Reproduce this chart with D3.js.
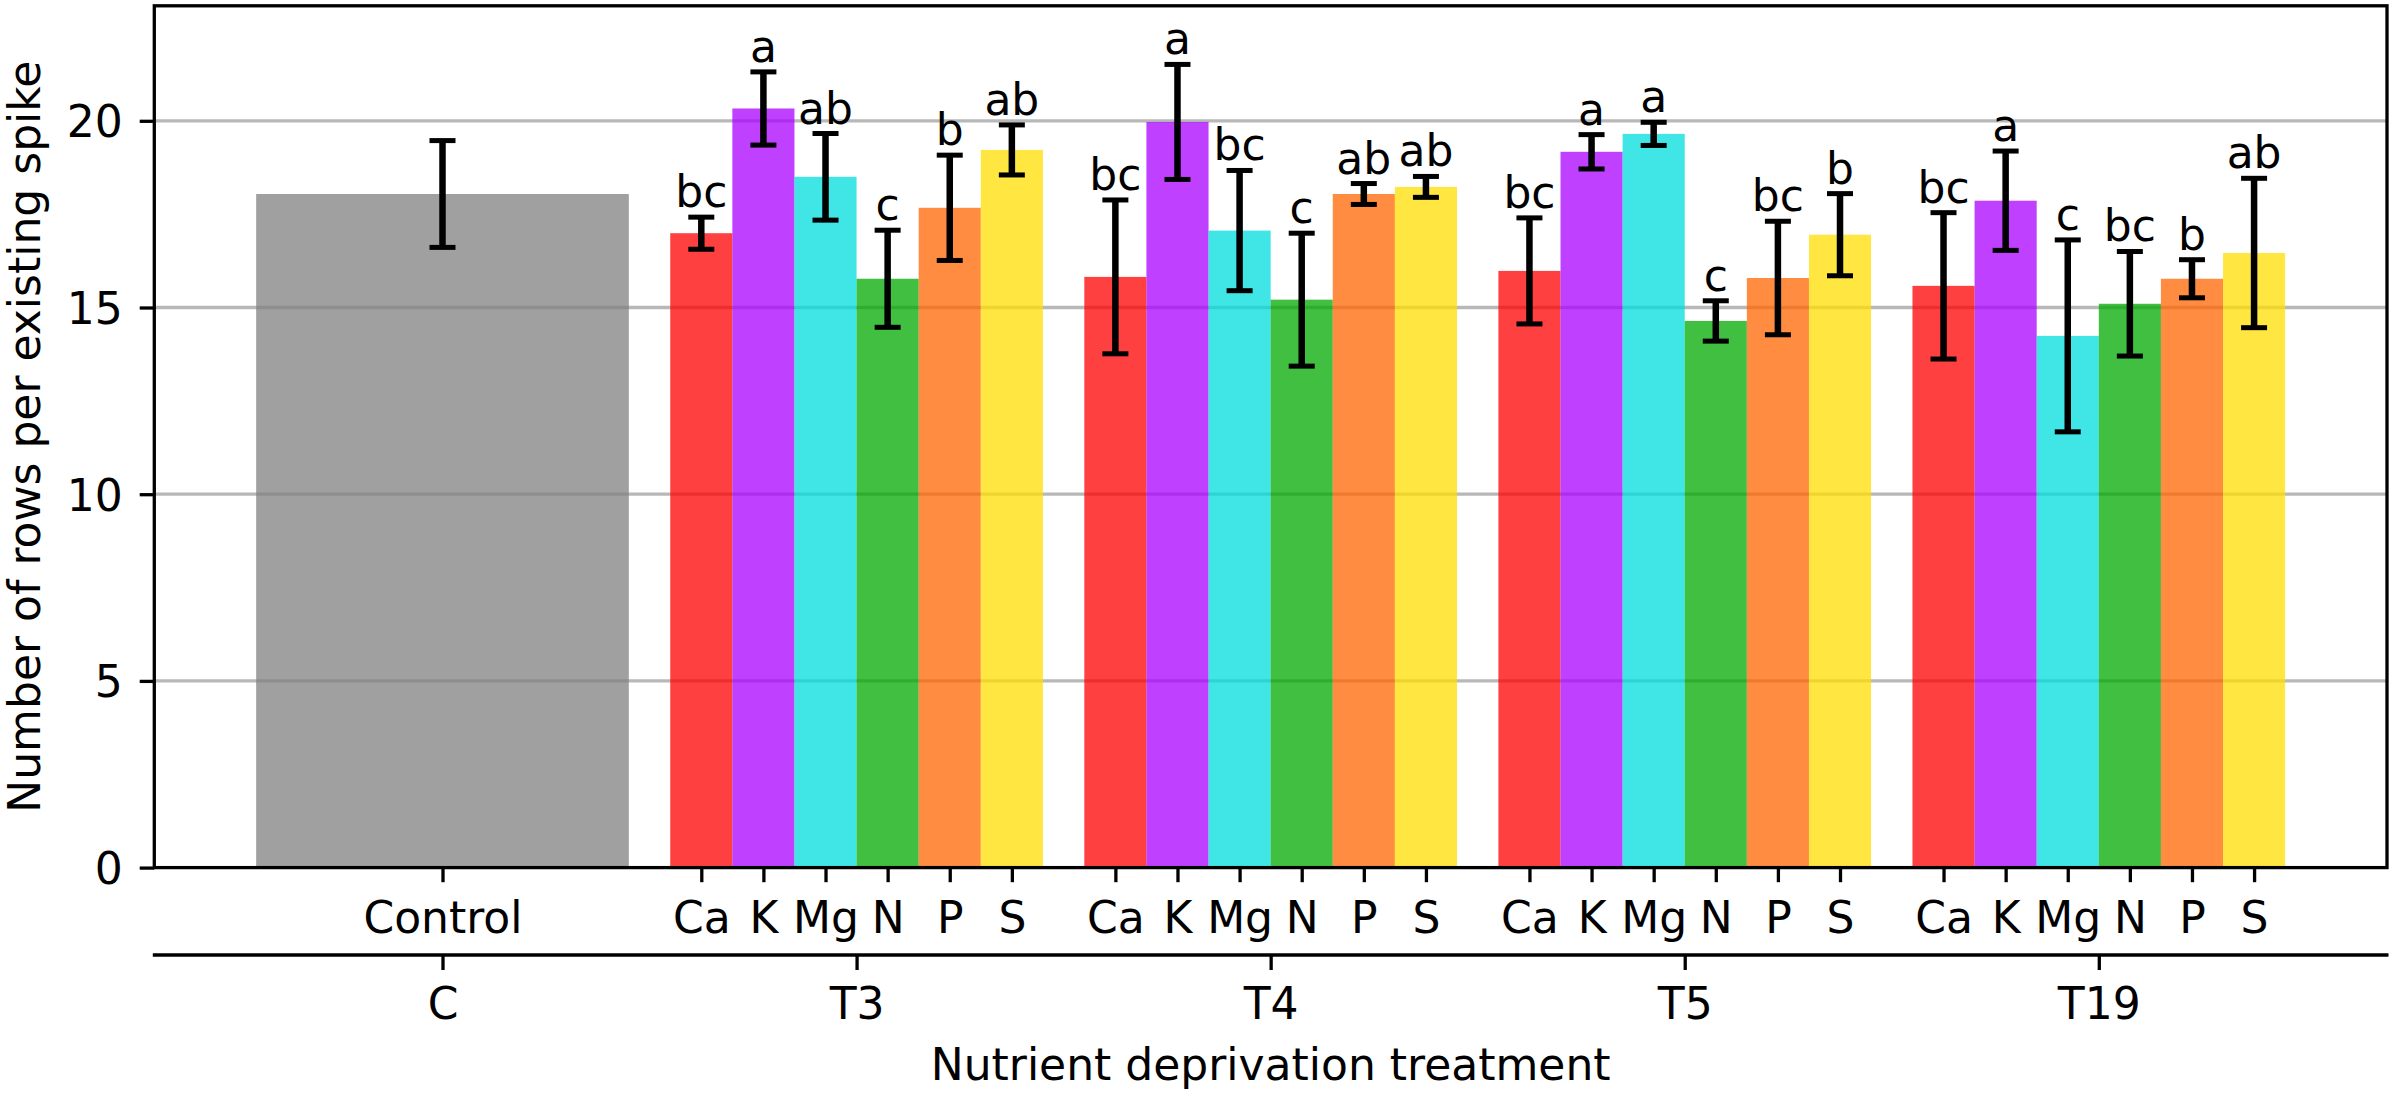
<!DOCTYPE html>
<html>
<head>
<meta charset="utf-8">
<script src="https://cdn.jsdelivr.net/npm/d3@7"></script>
<style>
  html, body { margin: 0; padding: 0; background: #ffffff; }
  svg { display: block; }
  text { font-family: "DejaVu Sans", sans-serif; fill: #000; }
</style>
</head>
<body>
<svg id="chart" width="2393" height="1096"></svg>
<script>
// ---------------- data ----------------
const groupLabels = ["C", "T3", "T4", "T5", "T19"];
const nutrients = ["Ca", "K", "Mg", "N", "P", "S"];
const controlLabel = "Control";
const controlMean = 18.04;
const controlErr = 1.43;

const meanT3 = [16.99, 20.33, 18.50, 15.77, 17.67, 19.22];
const errT3  = [0.43, 0.98, 1.16, 1.30, 1.41, 0.67];
const letT3  = ["bc", "a", "ab", "c", "b", "ab"];

const meanT4 = [15.82, 19.97, 17.06, 15.21, 18.04, 18.23];
const errT4  = [2.06, 1.54, 1.61, 1.78, 0.28, 0.28];
const letT4  = ["bc", "a", "bc", "c", "ab", "ab"];

const meanT5 = [15.98, 19.17, 19.65, 14.64, 15.79, 16.95];
const errT5  = [1.42, 0.46, 0.31, 0.54, 1.52, 1.10];
const letT5  = ["bc", "a", "a", "c", "bc", "b"];

const meanT19 = [15.58, 17.86, 14.24, 15.10, 15.77, 16.46];
const errT19  = [1.96, 1.33, 2.57, 1.40, 0.51, 2.00];
const letT19  = ["bc", "a", "c", "bc", "b", "ab"];

const yTicks = [0, 5, 10, 15, 20];
const yTitle = "Number of rows per existing spike";
const xTitle = "Nutrient deprivation treatment";

// ---------------- styling ----------------
const nutrientColors = ["#ff0000", "#aa00ff", "#00dcdc", "#00aa00", "#ff6600", "#ffdd00"];
const controlColor = "#808080";
const barOpacity = 0.75;
const fontSize = 44;
const lw = 3.3;

const pLeft = 154.3, pRight = 2387, pTop = 5.8, pBottom = 867.6;
const barW = 0.15;

const svg = d3.select("#chart");

const x = d3.scaleLinear().domain([-0.696, 4.696]).range([pLeft, pRight]);
const y = d3.scaleLinear().domain([0, 23.08]).range([pBottom, pTop]);

// assemble bar records from the named arrays
const groupsData = [
  { g: 1, mean: meanT3, err: errT3, let: letT3 },
  { g: 2, mean: meanT4, err: errT4, let: letT4 },
  { g: 3, mean: meanT5, err: errT5, let: letT5 },
  { g: 4, mean: meanT19, err: errT19, let: letT19 }
];
const bars = [{ pos: 0, w: 0.9, mean: controlMean, err: controlErr, color: controlColor, label: controlLabel, letter: null }];
groupsData.forEach(gd => {
  nutrients.forEach((n, j) => {
    bars.push({
      pos: gd.g + (j - 2.5) * barW,
      w: barW,
      mean: gd.mean[j],
      err: gd.err[j],
      color: nutrientColors[j],
      label: n,
      letter: gd.let[j]
    });
  });
});

// gridlines (behind bars)
svg.append("g").selectAll("line")
  .data(yTicks.filter(t => t > 0))
  .join("line")
  .attr("x1", pLeft).attr("x2", pRight)
  .attr("y1", d => y(d)).attr("y2", d => y(d))
  .attr("stroke", "#b8b8b8")
  .attr("stroke-width", lw);

// bars
svg.append("g").selectAll("rect")
  .data(bars)
  .join("rect")
  .attr("x", d => x(d.pos - d.w / 2))
  .attr("width", d => x(d.pos + d.w / 2) - x(d.pos - d.w / 2))
  .attr("y", d => y(d.mean))
  .attr("height", d => y(0) - y(d.mean))
  .attr("fill", d => d.color)
  .attr("fill-opacity", barOpacity);

// error bars
const eb = svg.append("g").attr("stroke", "#000");
eb.selectAll("line.v")
  .data(bars).join("line").attr("class", "v")
  .attr("x1", d => x(d.pos)).attr("x2", d => x(d.pos))
  .attr("y1", d => y(d.mean + d.err)).attr("y2", d => y(d.mean - d.err))
  .attr("stroke-width", 6.5);
const capHalf = 13;
["top", "bot"].forEach(k => {
  eb.selectAll("line.c" + k)
    .data(bars).join("line").attr("class", "c" + k)
    .attr("x1", d => x(d.pos) - capHalf).attr("x2", d => x(d.pos) + capHalf)
    .attr("y1", d => y(k === "top" ? d.mean + d.err : d.mean - d.err))
    .attr("y2", d => y(k === "top" ? d.mean + d.err : d.mean - d.err))
    .attr("stroke-width", 5);
});

// significance letters
svg.append("g").selectAll("text")
  .data(bars.filter(d => d.letter))
  .join("text")
  .attr("x", d => x(d.pos))
  .attr("y", d => y(d.mean + d.err) - 10)
  .attr("text-anchor", "middle")
  .attr("font-size", fontSize)
  .text(d => d.letter);

// y axis
const yAxis = d3.axisLeft(y).tickValues(yTicks).tickFormat(d3.format("d")).tickSize(14.6).tickPadding(17).tickSizeOuter(0);
const gy = svg.append("g").attr("transform", `translate(${pLeft},0)`).call(yAxis);
gy.select(".domain").remove();
gy.selectAll(".tick line").attr("stroke", "#000").attr("stroke-width", lw);
gy.selectAll(".tick text").attr("font-size", fontSize).attr("font-family", "DejaVu Sans, sans-serif")
  .attr("dy", null).attr("y", 16);

// x sub-category axis
const xAxis = d3.axisBottom(x)
  .tickValues(bars.map(d => d.pos))
  .tickFormat((d, i) => bars[i].label)
  .tickSize(14.6).tickSizeOuter(0);
const gx = svg.append("g").attr("transform", `translate(0,${pBottom})`).call(xAxis);
gx.select(".domain").remove();
gx.selectAll(".tick line").attr("stroke", "#000").attr("stroke-width", lw);
gx.selectAll(".tick text").attr("font-size", fontSize).attr("font-family", "DejaVu Sans, sans-serif")
  .attr("dy", null).attr("y", 933 - pBottom);

// frame (spines)
svg.append("rect")
  .attr("x", pLeft).attr("y", pTop)
  .attr("width", pRight - pLeft).attr("height", pBottom - pTop)
  .attr("fill", "none").attr("stroke", "#000").attr("stroke-width", lw);

// secondary group axis
const axis2Y = 955;
const xAxis2 = d3.axisBottom(x)
  .tickValues(d3.range(groupLabels.length))
  .tickFormat((d, i) => groupLabels[i])
  .tickSize(15).tickSizeOuter(0);
const gx2 = svg.append("g").attr("transform", `translate(0,${axis2Y})`).call(xAxis2);
gx2.select(".domain").remove();
gx2.append("line").attr("x1", pLeft - 1.5).attr("x2", pRight + 1.5).attr("y1", 0).attr("y2", 0)
  .attr("stroke", "#000").attr("stroke-width", lw);
gx2.selectAll(".tick line").attr("stroke", "#000").attr("stroke-width", lw);
gx2.selectAll(".tick text").attr("font-size", fontSize).attr("font-family", "DejaVu Sans, sans-serif")
  .attr("dy", null).attr("y", 1019 - axis2Y);

// axis titles
svg.append("text")
  .attr("x", (pLeft + pRight) / 2).attr("y", 1080)
  .attr("text-anchor", "middle").attr("font-size", fontSize)
  .text(xTitle);
svg.append("text")
  .attr("transform", `translate(40,${(pTop + pBottom) / 2}) rotate(-90)`)
  .attr("text-anchor", "middle").attr("font-size", fontSize)
  .text(yTitle);
</script>
</body>
</html>
